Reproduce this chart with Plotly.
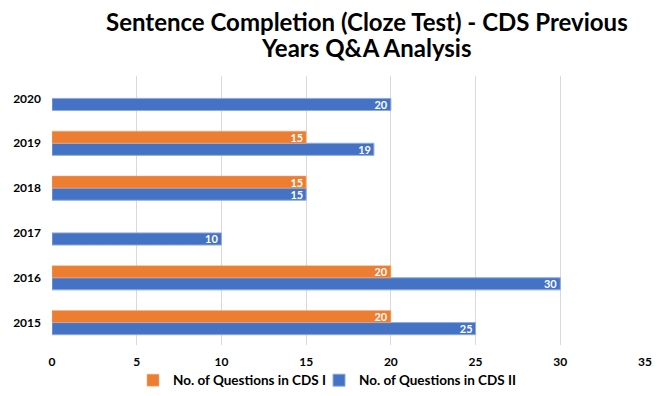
import plotly.graph_objects as go

years = ["2015", "2016", "2017", "2018", "2019", "2020"]
cds1 = [20, 20, None, 15, 15, None]
cds2 = [25, 30, 10, 15, 19, 20]
x_ticks = [0, 5, 10, 15, 20, 25, 30, 35]

FONT = "Lato, Open Sans, sans-serif"

fig = go.Figure()
fig.add_trace(go.Bar(
    y=years, x=cds2, orientation="h", name="No. of Questions in CDS II",
    marker=dict(color="#4472C4", line=dict(color="#8FAADC", width=1)),
    text=cds2, textposition="inside", insidetextanchor="end",
    constraintext="none", textangle=0, legend="legend2", showlegend=True,
    textfont=dict(color="white", size=11, family=FONT, weight="bold"),
))
fig.add_trace(go.Bar(
    y=years, x=cds1, orientation="h", name="No. of Questions in CDS I",
    marker=dict(color="#ED7D31", line=dict(color="#F4B183", width=0.5)),
    text=cds1, textposition="inside", insidetextanchor="end",
    constraintext="none", textangle=0, legend="legend", showlegend=True,
    textfont=dict(color="white", size=11, family=FONT, weight="bold"),
))

fig.add_annotation(
    text="<b>Sentence Completion (Cloze Test) - CDS Previous</b>",
    xref="paper", yref="paper", x=0.531, xanchor="center",
    y=1.204, yanchor="middle", showarrow=False, borderpad=0,
    font=dict(size=24, family=FONT, color="black"),
)
fig.add_annotation(
    text="<b>Years Q&A Analysis</b>",
    xref="paper", yref="paper", x=0.531, xanchor="center",
    y=1.106, yanchor="middle", showarrow=False, borderpad=0,
    font=dict(size=24, family=FONT, color="black"),
)

legend_common = dict(
    orientation="h", xanchor="left",
    yref="container", y=0.02, yanchor="middle",
    itemwidth=30, bgcolor="rgba(0,0,0,0)",
    font=dict(size=13.5, family=FONT, weight="bold"),
)

fig.update_layout(
    width=656, height=380, showlegend=True,
    paper_bgcolor="white", plot_bgcolor="white",
    font=dict(family=FONT, color="black", size=12),
    barmode="group", bargap=0.46, bargroupgap=0,
    margin=dict(l=44, r=19, t=67.5, b=42.5),
    legend=dict(x=0.1366, **legend_common),
    legend2=dict(x=0.4503, **legend_common),
    xaxis=dict(
        range=[0, 35], tickvals=x_ticks, showgrid=True, gridcolor="#D9D9D9",
        zeroline=False, automargin=False,
        tickfont=dict(size=12, family=FONT, weight="bold"),
        ticklabelstandoff=8,
    ),
    yaxis=dict(
        type="category", showgrid=False, automargin=False,
        range=[-0.5, 5.5],
        tickfont=dict(size=12, family=FONT, weight="bold"),
        ticklabelstandoff=10,
    ),
)

fig.write_html("out.html")
